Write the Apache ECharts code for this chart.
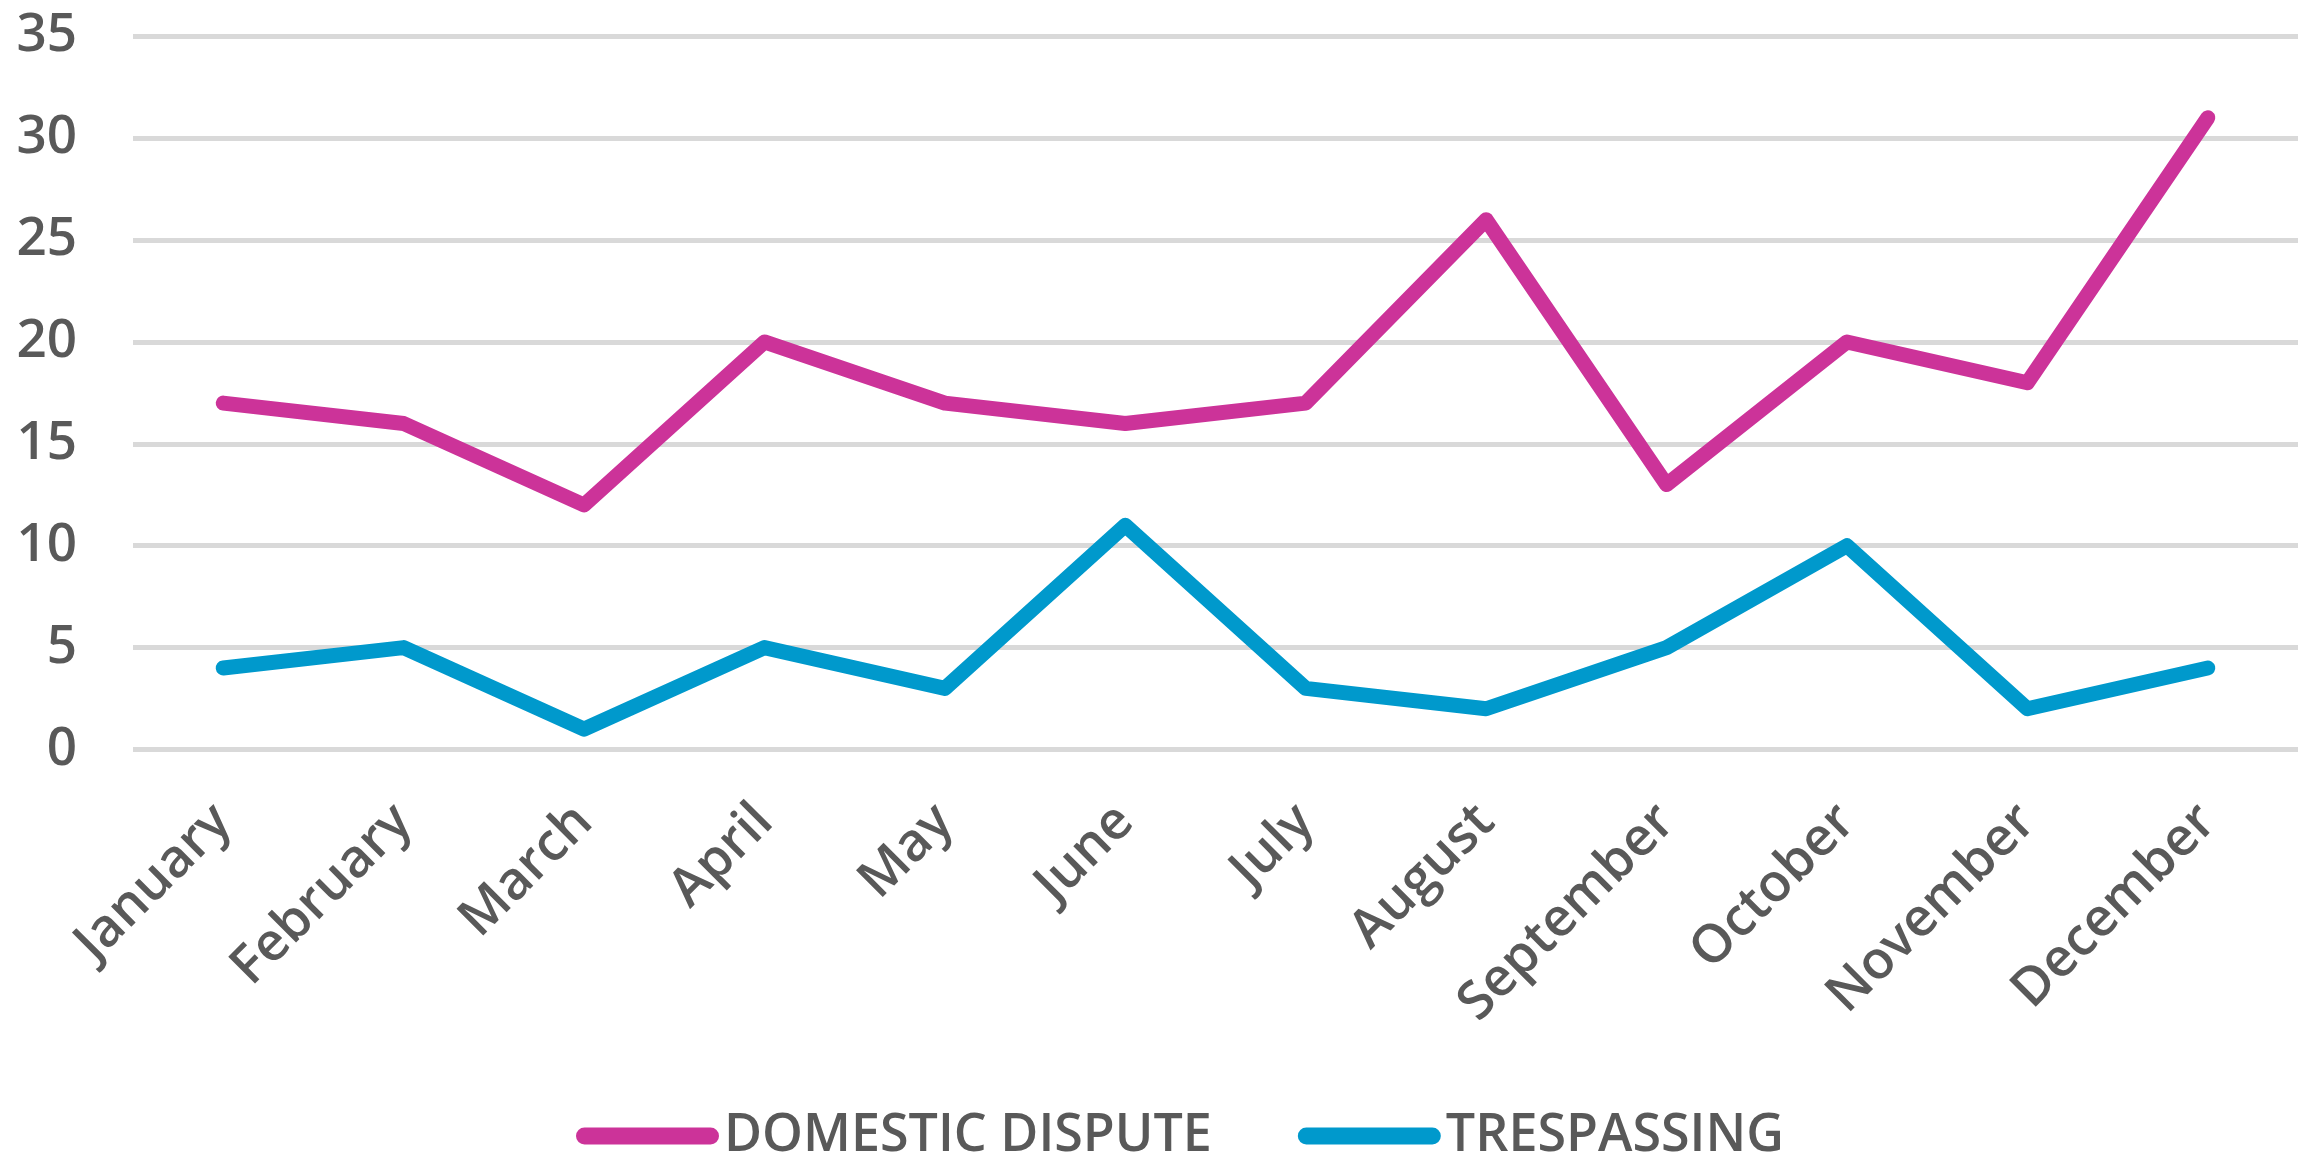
<!DOCTYPE html>
<html>
<head>
<meta charset="utf-8">
<script src="https://cdn.jsdelivr.net/npm/echarts@6/dist/echarts.min.js"></script>
<style>
html,body{margin:0;padding:0;background:#fff;}
#chart{width:2310px;height:1154px;}
</style>
</head>
<body>
<div id="chart"></div>
<script>
var months = ['January','February','March','April','May','June','July','August','September','October','November','December'];
var domesticDispute = [17,16,12,20,17,16,17,26,13,20,18,31];
var trespassing = [4,5,1,5,3,11,3,2,5,10,2,4];
var yTicks = {min:0, max:35, interval:5};

var FONT = '"Open Sans", sans-serif';
var TXT = '#595959';
var chart = echarts.init(document.getElementById('chart'));
var capsule = 'path://M8.5,0H134.5A8.5,8.5,0,0,1,134.5,17H8.5A8.5,8.5,0,0,1,8.5,0Z';
chart.setOption({
  animation:false,
  backgroundColor:'#ffffff',
  grid:{left:133, right:12, top:36.3, bottom:404.5, containLabel:false},
  legend:{
    left:571, top:1105,
    itemWidth:143, itemHeight:17, itemGap:86,
    textStyle:{color:TXT, fontFamily:FONT, fontSize:52, fontWeight:600, lineHeight:52, padding:[0,0,0,0]},
    data:[{name:'DOMESTIC DISPUTE', icon:capsule},{name:'TRESPASSING', icon:capsule}]
  },
  xAxis:{
    type:'category', data:months, boundaryGap:true,
    axisLine:{show:false}, axisTick:{show:false},
    axisLabel:{rotate:45, margin:64, interval:0, color:TXT, fontFamily:FONT, fontSize:53, fontWeight:600}
  },
  yAxis:{
    type:'value', min:yTicks.min, max:yTicks.max, interval:yTicks.interval,
    axisLine:{show:false}, axisTick:{show:false},
    axisLabel:{margin:56, color:TXT, fontFamily:FONT, fontSize:53, fontWeight:600},
    splitLine:{lineStyle:{color:'#D9D9D9', width:5}}
  },
  series:[
    {name:'DOMESTIC DISPUTE', type:'line', data:domesticDispute, symbol:'none',
     itemStyle:{color:'#CC3399'},
     lineStyle:{color:'#CC3399', width:15, cap:'round', join:'round'}},
    {name:'TRESPASSING', type:'line', data:trespassing, symbol:'none',
     itemStyle:{color:'#0099CC'},
     lineStyle:{color:'#0099CC', width:15, cap:'round', join:'round'}}
  ]
});
</script>
</body>
</html>
